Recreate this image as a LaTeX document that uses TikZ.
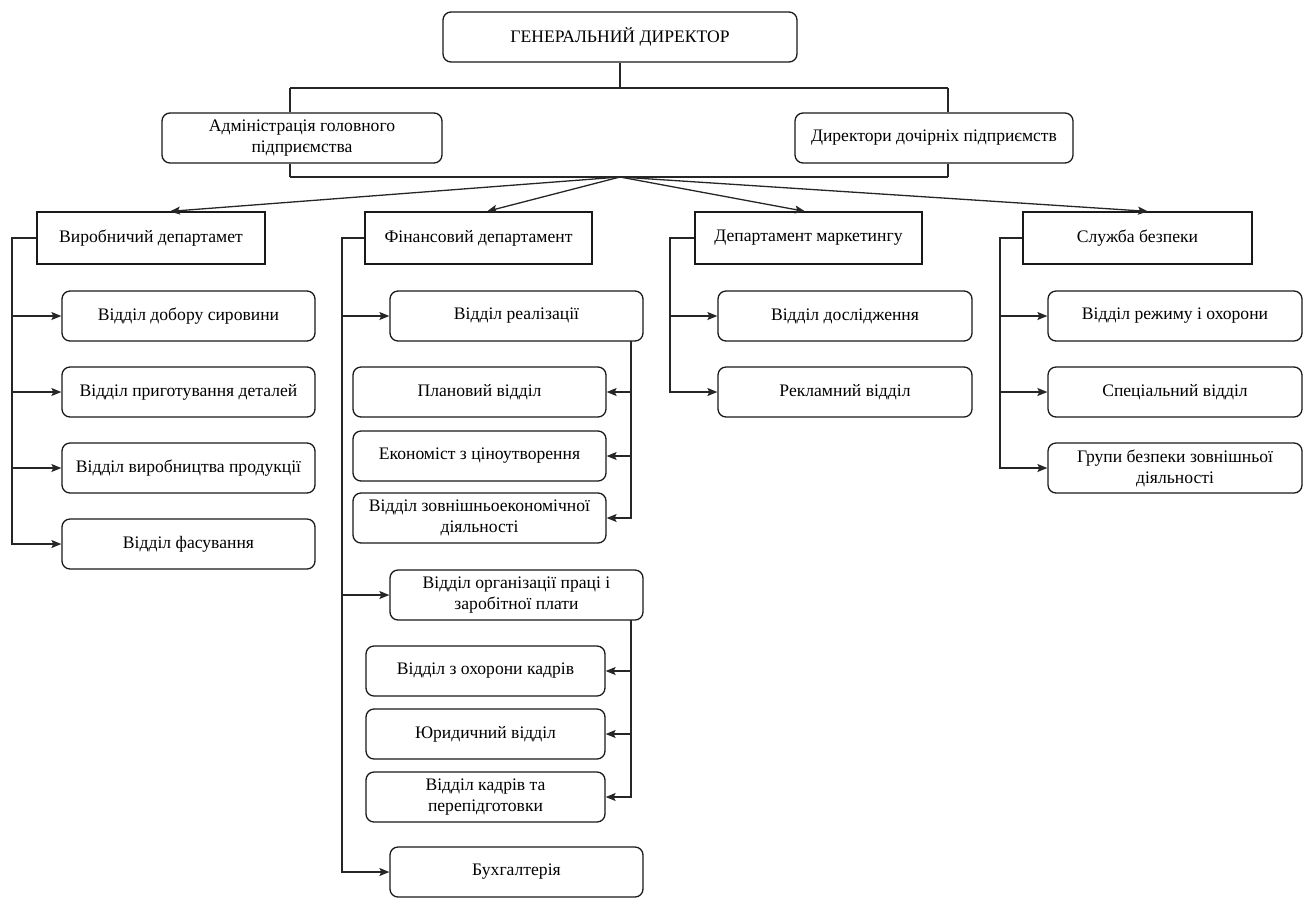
\documentclass[tikz,border=0pt]{standalone}
\usepackage{fontspec}
\setmainfont{Liberation Serif}
\usetikzlibrary{arrows.meta,calc}

\tikzset{
  every node/.style={font=\fontsize{17.6}{21}\selectfont, text=black, inner sep=2pt},
  rbox/.style={draw=black!90, line width=1.3pt, rounded corners=8pt, align=center,
    minimum height=50pt},
  sbox/.style={draw=black!90, line width=1.3pt, align=center, minimum height=52pt},
  link/.style={draw=black!85, line width=1.3pt},
  arr/.style={link, -{Stealth[length=10pt,width=8pt,inset=2pt]}}
}

\begin{document}
\begin{tikzpicture}[x=1pt,y=-1pt]
\useasboundingbox (0,0) rectangle (1308,898);

% top management
\node[rbox, minimum width=354pt] (gd)  at (620,37)   {ГЕНЕРАЛЬНИЙ ДИРЕКТОР};
\node[rbox, minimum width=280pt] (adm) at (302,138)  {Адміністрація головного\\підприємства};
\node[rbox, minimum width=278pt] (dir) at (934,138)  {Директори дочірніх підприємств};

% departments
\node[sbox, minimum width=228pt] (dv) at (151,238)   {Виробничий департамет};
\node[sbox, minimum width=227pt] (df) at (478.5,238) {Фінансовий департамент};
\node[sbox, minimum width=227pt] (dm) at (808.5,238) {Департамент маркетингу};
\node[sbox, minimum width=229pt] (ds) at (1137.5,238){Служба безпеки};

% production units
\node[rbox, minimum width=253pt] (v1) at (188.5,316) {Відділ добору сировини};
\node[rbox, minimum width=253pt] (v2) at (188.5,392) {Відділ приготування деталей};
\node[rbox, minimum width=253pt] (v3) at (188.5,468) {Відділ виробництва продукції};
\node[rbox, minimum width=253pt] (v4) at (188.5,544) {Відділ фасування};

% finance units
\node[rbox, minimum width=253pt] (f1) at (516.5,316) {Відділ реалізації};
\node[rbox, minimum width=253pt] (f11) at (479.5,392) {Плановий відділ};
\node[rbox, minimum width=253pt] (f12) at (479.5,456) {Економіст з ціноутворення};
\node[rbox, minimum width=253pt] (f13) at (479.5,518) {Відділ зовнішньоекономічної\\діяльності};
\node[rbox, minimum width=253pt] (f2) at (516.5,595) {Відділ організації праці і\\заробітної плати};
\node[rbox, minimum width=239pt] (f21) at (485.5,671) {Відділ з охорони кадрів};
\node[rbox, minimum width=239pt] (f22) at (485.5,734) {Юридичний відділ};
\node[rbox, minimum width=239pt] (f23) at (485.5,797) {Відділ кадрів та\\перепідготовки};
\node[rbox, minimum width=253pt] (f3) at (516.5,872) {Бухгалтерія};

% marketing units
\node[rbox, minimum width=254pt] (m1) at (845,316) {Відділ дослідження};
\node[rbox, minimum width=254pt] (m2) at (845,392) {Рекламний відділ};

% security units
\node[rbox, minimum width=254pt] (s1) at (1175,316) {Відділ режиму і охорони};
\node[rbox, minimum width=254pt] (s2) at (1175,392) {Спеціальний відділ};
\node[rbox, minimum width=254pt] (s3) at (1175,468) {Групи безпеки зовнішньої\\діяльності};

% junction points
\coordinate (t)  at (620,88);
\coordinate (tl) at (290,88);
\coordinate (tr) at (948,88);
\coordinate (bl) at (290,177);
\coordinate (br) at (948,177);
\coordinate (hub) at (620,177);
\coordinate (b1) at (12,238);
\coordinate (b2) at (342,238);
\coordinate (b3) at (670,238);
\coordinate (b4) at (1000,238);
\coordinate (r1) at (631,341);
\coordinate (r2) at (631,620);

% top bracket
\draw[link] (gd) -- (t);
\draw[link] (tl) -- (tr);
\draw[link] (tl) -- (tl |- adm.north);
\draw[link] (tr) -- (tr |- dir.north);
\draw[link] (adm.south -| bl) -- (bl);
\draw[link] (dir.south -| br) -- (br);
\draw[link] (bl) -- (br);

% fan to departments
\draw[arr] (hub) -- ($(dv.north)+(19,0)$);
\draw[arr] (hub) -- ($(df.north)+(8.5,0)$);
\draw[arr] (hub) -- ($(dm.north)+(-3.5,0)$);
\draw[arr] (hub) -- ($(ds.north)+(10.5,0)$);

% production bus
\draw[arr] (dv.west) -- (b1) |- (v4.west);
\foreach \n in {v1,v2,v3} \draw[arr] (b1 |- \n.west) -- (\n.west);

% finance bus
\draw[arr] (df.west) -- (b2) |- (f3.west);
\foreach \n in {f1,f2} \draw[arr] (b2 |- \n.west) -- (\n.west);
\draw[arr] (r1) |- (f13.east);
\foreach \n in {f11,f12} \draw[arr] (r1 |- \n.east) -- (\n.east);
\draw[arr] (r2) |- (f23.east);
\foreach \n in {f21,f22} \draw[arr] (r2 |- \n.east) -- (\n.east);

% marketing bus
\draw[arr] (dm.west) -- (b3) |- (m2.west);
\draw[arr] (b3 |- m1.west) -- (m1.west);

% security bus
\draw[arr] (ds.west) -- (b4) |- (s3.west);
\foreach \n in {s1,s2} \draw[arr] (b4 |- \n.west) -- (\n.west);
\end{tikzpicture}
\end{document}
